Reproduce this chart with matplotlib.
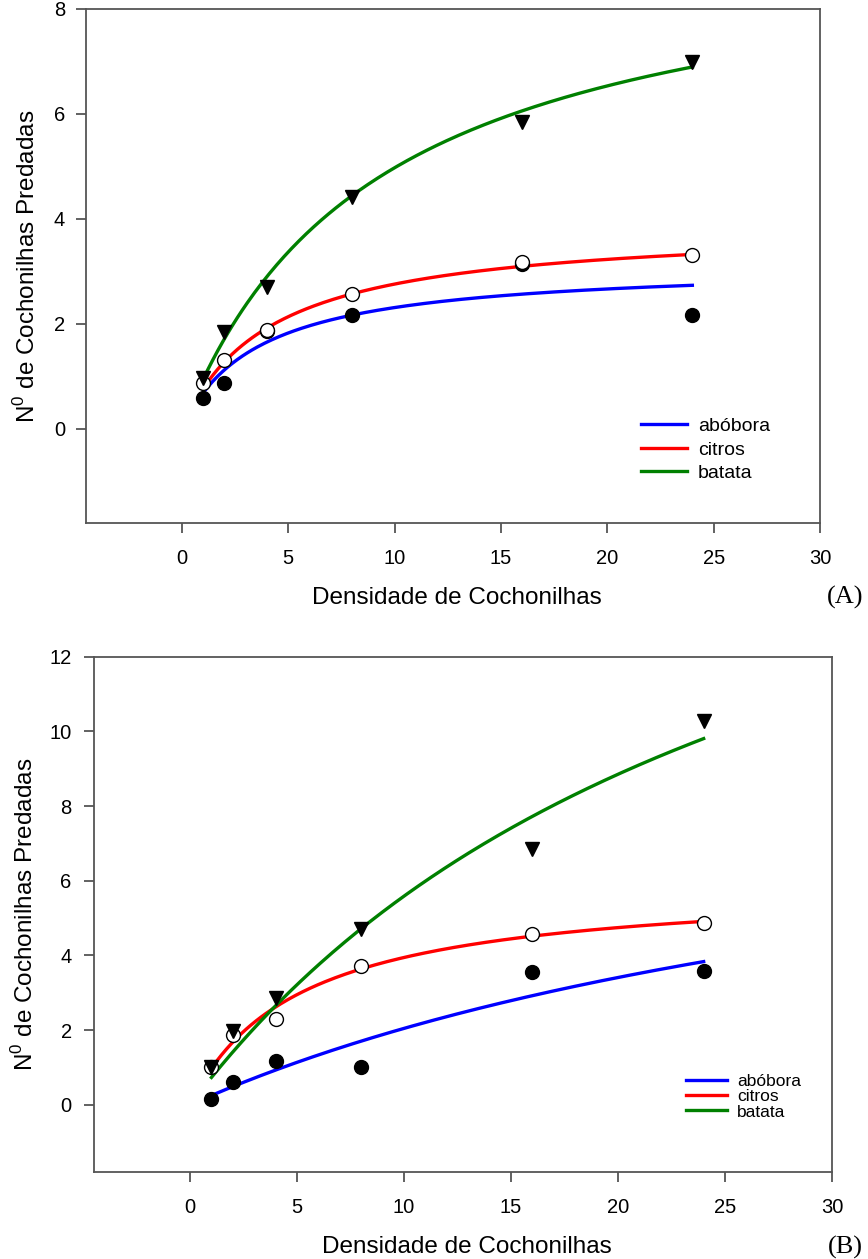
import matplotlib
matplotlib.use("Agg")
import matplotlib.pyplot as plt
import numpy as np

plt.rcParams['font.family'] = ['Liberation Sans', 'DejaVu Sans']
plt.rcParams['mathtext.fontset'] = 'custom'
plt.rcParams['mathtext.rm'] = 'Liberation Sans'

# densidades oferecidas
densidade = [1, 2, 4, 8, 16, 24]

# (A) pontos observados
a_abobora = [0.58, 0.87, 1.86, 2.16, 3.13, 2.16]
a_citros = [0.87, 1.31, 1.87, 2.57, 3.17, 3.30]
a_batata = [0.97, 1.85, 2.70, 4.42, 5.84, 6.99]

# (B) pontos observados
b_abobora = [0.15, 0.60, 1.16, 1.00, 3.55, 3.58]
b_citros = [1.00, 1.87, 2.30, 3.73, 4.57, 4.88]
b_batata = [1.00, 1.98, 2.85, 4.71, 6.84, 10.28]

# parametros das curvas ajustadas (Holling tipo II: a*N/(1+a*h*N))
a_ajuste = {'abóbora': (0.866, 0.318), 'citros': (0.943, 0.257), 'batata': (1.04, 0.105)}
b_ajuste = {'abóbora': (0.256, 0.098), 'citros': (1.17, 0.168), 'batata': (0.758, 0.047)}

cores = {'abóbora': 'blue', 'citros': 'red', 'batata': 'green'}


def holling(n, a, h):
    return a * n / (1 + a * h * n)


fig = plt.figure(figsize=(8.68, 12.59), dpi=100)
axA = fig.add_axes([0.0991, 0.5846, 0.8456, 0.4083])
axB = fig.add_axes([0.1080, 0.0691, 0.8506, 0.4093])


def painel(ax, abob, citr, bat, ajuste, ylim, yticks, leg_pos, leg_fs, leg_sp, ylab_x, ypad):
    n = np.linspace(1, 24, 200)
    for nome, (a, h) in ajuste.items():
        ax.plot(n, holling(n, a, h), color=cores[nome], lw=2.4, label=nome, zorder=2)
    ax.plot(densidade, abob, 'o', color='black', ms=10, zorder=3)
    ax.plot(densidade, citr, 'o', mfc='white', mec='black', mew=1.0, ms=10, zorder=4)
    ax.plot(densidade, bat, 'v', color='black', ms=10, zorder=5)

    ax.set_xlim(-4.5, 30)
    ax.set_ylim(*ylim)
    ax.set_xticks([0, 5, 10, 15, 20, 25, 30])
    ax.set_yticks(yticks)
    for s in ax.spines.values():
        s.set_color('#555555')
        s.set_linewidth(1.3)
    ax.tick_params(axis='both', direction='out', length=7.5, width=1.3,
                   color='#555555', labelsize=14.5)
    ax.tick_params(axis='x', pad=11.5)
    ax.tick_params(axis='y', pad=ypad)

    ax.set_xlabel('Densidade de Cochonilhas', fontsize=17.5)
    ax.xaxis.set_label_coords(0.505, -0.125)
    ax.set_ylabel(r'N$^{\mathrm{0}}$ de Cochonilhas Predadas', fontsize=17.5)
    ax.yaxis.set_label_coords(ylab_x, 0.5)

    ax.legend(loc='upper left', bbox_to_anchor=leg_pos, frameon=False,
              fontsize=leg_fs, borderpad=0, borderaxespad=0,
              handlelength=2.4, handletextpad=0.55, labelspacing=leg_sp)


painel(axA, a_abobora, a_citros, a_batata, a_ajuste, (-1.8, 8), [0, 2, 4, 6, 8],
       (0.7557, 0.205), 14, 0.3, -0.0627, 7.5)
painel(axB, b_abobora, b_citros, b_batata, b_ajuste, (-1.8, 12), [0, 2, 4, 6, 8, 10, 12],
       (0.8018, 0.19), 12.5, 0.0, -0.0754, 8.4)

fig.text(845.5 / 868, 1 - 597 / 1259, '(A)', family=['Liberation Serif', 'DejaVu Serif'],
         fontsize=19, ha='center', va='center')
fig.text(845.5 / 868, 1 - 1247 / 1259, '(B)', family=['Liberation Serif', 'DejaVu Serif'],
         fontsize=19, ha='center', va='center')

fig.savefig('out.png', dpi=100)
